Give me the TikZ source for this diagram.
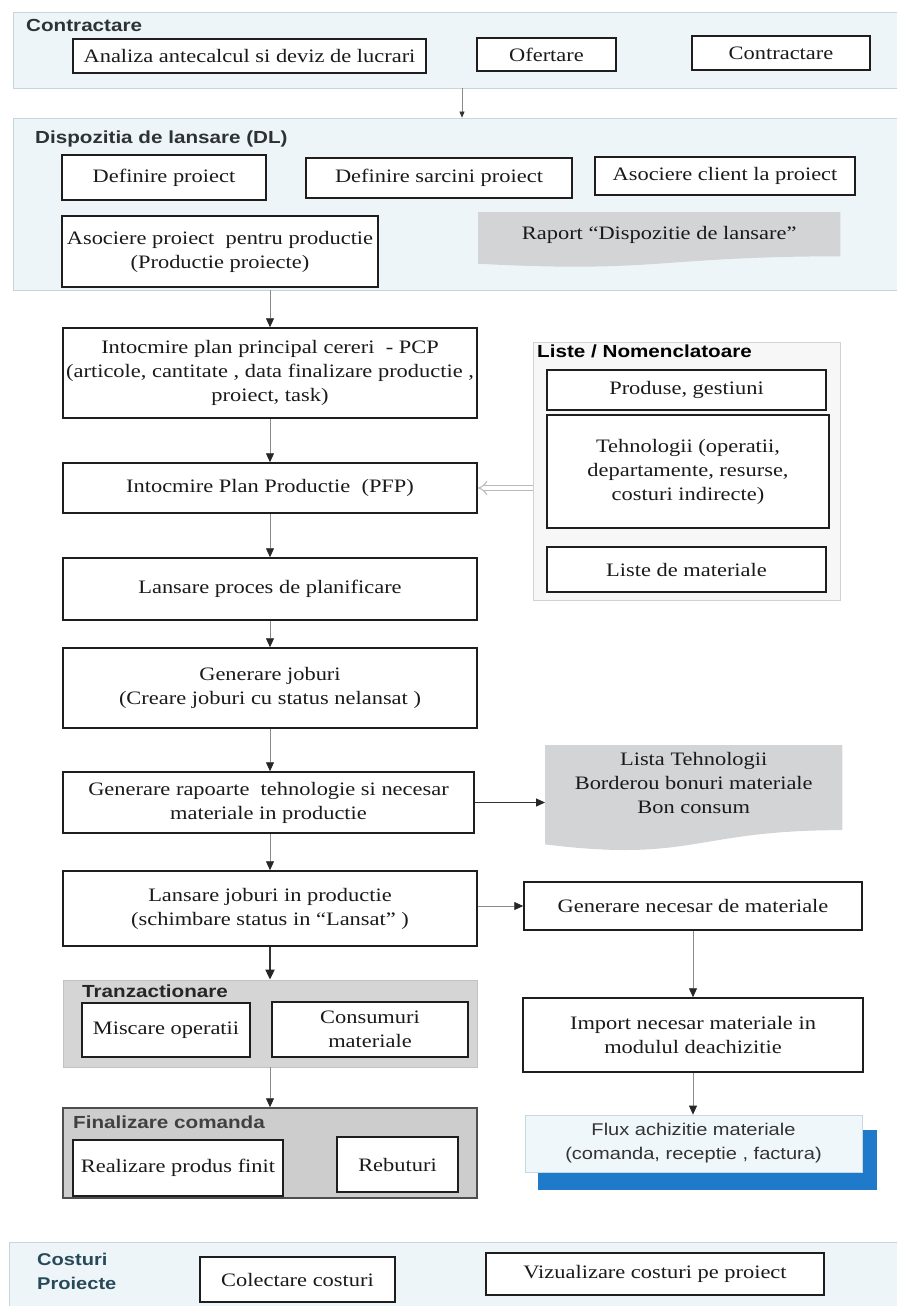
\documentclass[tikz,border=0pt]{standalone}
\usepackage{fontspec}
\setmainfont{Liberation Serif}[FakeStretch=1.18]
\setsansfont{Liberation Sans}[FakeStretch=1.18]
\usetikzlibrary{arrows.meta,calc}

\definecolor{panelblue}{HTML}{EEF5F9}
\definecolor{panelline}{HTML}{C9D5DD}
\definecolor{tgray}{HTML}{D5D5D5}
\definecolor{tline}{HTML}{C2C2C2}
\definecolor{fgray}{HTML}{CDCDCD}
\definecolor{fline}{HTML}{4E4E4E}
\definecolor{repgray}{HTML}{D3D4D6}
\definecolor{boxline}{HTML}{1E1E1E}
\definecolor{txt}{HTML}{1A1A1A}
\definecolor{titlegray}{HTML}{2E3236}
\definecolor{titleteal}{HTML}{274A5A}
\definecolor{fluxblue}{HTML}{1F7BC9}
\definecolor{fluxfill}{HTML}{F0F7FB}
\definecolor{fluxline}{HTML}{C8D8E2}
\definecolor{linegray}{HTML}{8A8A8A}
\definecolor{listfill}{HTML}{F7F7F7}
\definecolor{listline}{HTML}{D2D2D2}

\newcommand\txtsize{\fontsize{19}{24}\selectfont}

% document symbol with a wavy lower edge, drawn over the frame of a node
\newcommand\docshape[2]{%
  \fill[#2] let \p1=(#1.north west), \p2=(#1.south east),
    \n1={\x2-\x1}, \n2={\y1-\y2} in
    (\x1,\y1) -- (\x2,\y1) -- (\x2,{\y1-0.80*\n2})
    .. controls ({\x1+0.5*\n1},{\y1-0.80*\n2}) and ({\x1+0.5*\n1},{\y1-1.107*\n2})
    .. (\x1,{\y1-0.934*\n2}) -- cycle;}

\begin{document}
\begin{tikzpicture}[x=1pt,y=-1pt,
  box/.style={draw=boxline, line width=1.5pt, fill=white, align=center,
    inner sep=0pt, font=\txtsize, text=txt},
  panel/.style={draw=panelline, line width=0.8pt, fill=panelblue, inner sep=0pt},
  trpanel/.style={draw=tline, line width=0.8pt, fill=tgray, inner sep=0pt},
  finpanel/.style={draw=fline, line width=1.5pt, fill=fgray, inner sep=0pt},
  listpanel/.style={draw=listline, line width=0.8pt, fill=listfill, inner sep=0pt},
  ptitle/.style={font=\sffamily\bfseries\fontsize{17.5}{22}\selectfont,
    text=titlegray, anchor=west, inner sep=0pt, align=left},
  frame/.style={inner sep=0pt, anchor=north west},
  rtext/.style={align=center, inner sep=0pt, font=\txtsize, text=txt},
  flow/.style={draw=linegray, line width=0.8pt,
    -{Triangle[length=9pt,width=8pt,color=black!85]}},
  flowdark/.style={draw=black!80, line width=1.2pt,
    -{Triangle[length=9pt,width=8pt,color=black!85]}},
  flowthick/.style={draw=black!80, line width=1.8pt,
    -{Triangle[length=10pt,width=9pt,color=black!85]}},
  flowsmall/.style={draw=linegray, line width=0.6pt,
    -{Triangle[length=6pt,width=5pt,color=black!80]}},
  dblarrow/.style={draw=gray!55, line width=1pt, double=white,
    double distance=4pt, -{Implies}},
]
\useasboundingbox (0,0) rectangle (897,1306);
\clip (0,0) rectangle (897,1306);

% ---------- Contractare ----------
\node[panel, minimum width=888pt, minimum height=76pt] (pcontr) at (457,50) {};
\node[ptitle] (tcontr) at (26,25) {Contractare};
\node[box, minimum width=353pt, minimum height=34pt] (ana) at (249.5,56) {Analiza antecalcul si deviz de lucrari};
\node[box, minimum width=139pt, minimum height=33pt] (ofe) at (546.5,54.5) {Ofertare};
\node[box, minimum width=178pt, minimum height=34pt] (con) at (781,53) {Contractare};

% ---------- Dispozitia de lansare ----------
\node[panel, minimum width=888pt, minimum height=172pt] (pdl) at (457,204) {};
\node[ptitle] (tdl) at (35,139) {Dispozitia de lansare (DL)};
\node[box, minimum width=204pt, minimum height=45pt] (dp) at (164,177.5) {Definire proiect};
\node[box, minimum width=266pt, minimum height=40pt] (ds) at (439,178) {Definire sarcini proiect};
\node[box, minimum width=260pt, minimum height=38pt] (ac) at (725,176) {Asociere client la proiect};
\node[box, minimum width=316pt, minimum height=71pt] (ap) at (220,251.5)
  {Asociere proiect \ pentru productie\\(Productie proiecte)};
\node[frame, minimum width=362pt, minimum height=55pt] (rep1) at (478,212) {};
\docshape{rep1}{repgray}
\node[rtext] (rep1t) at ($(rep1.north)+(0,23)$) {Raport “Dispozitie de lansare”};

\coordinate (cx) at (462,0);
\draw[flowsmall] (pcontr.south -| cx) -- (pdl.north -| cx);

% ---------- main column ----------
\node[box, minimum width=414pt, minimum height=90pt] (pcp) at (270,373)
  {Intocmire plan principal cereri \ - PCP\\(articole, cantitate , data finalizare productie ,\\proiect, task)};
\node[box, minimum width=414pt, minimum height=50pt] (pfp) at (270,488)
  {Intocmire Plan Productie \ (PFP)};
\node[box, minimum width=414pt, minimum height=62pt] (lpp) at (270,589)
  {Lansare proces de planificare};
\node[box, minimum width=414pt, minimum height=80pt] (gj) at (270,688)
  {Generare joburi\\(Creare joburi cu status nelansat )};
\node[box, minimum width=411pt, minimum height=61pt] (gr) at (268.5,802.5)
  {Generare rapoarte \ tehnologie si necesar\\materiale in productie};
\node[box, minimum width=414pt, minimum height=75pt] (lj) at (270,908.5)
  {Lansare joburi in productie\\(schimbare status in “Lansat” )};

% ---------- Tranzactionare ----------
\node[trpanel, minimum width=414pt, minimum height=87pt] (ptr) at (270,1023.5) {};
\node[ptitle, text=black!85] (ttr) at (82,991) {Tranzactionare};
\node[box, minimum width=168pt, minimum height=54pt] (mis) at (166,1030) {Miscare operatii};
\node[box, minimum width=196pt, minimum height=55pt] (cons) at (370,1029.5) {Consumuri\\materiale};

% ---------- Finalizare comanda ----------
\node[finpanel, minimum width=414pt, minimum height=90pt] (pfin) at (270,1153) {};
\node[ptitle, text=black!75] (tfin) at (73,1122) {Finalizare comanda};
\node[box, minimum width=210pt, minimum height=56pt] (real) at (178,1168) {Realizare produs finit};
\node[box, minimum width=121pt, minimum height=55pt] (reb) at (397.5,1164.5) {Rebuturi};

% ---------- Liste / Nomenclatoare ----------
\node[listpanel, minimum width=307pt, minimum height=258pt] (liste) at (686.5,471) {};
\node[ptitle, text=black] (tlis) at (537,351) {Liste / Nomenclatoare};
\node[box, minimum width=279pt, minimum height=40pt] (prod) at (686.5,390) {Produse, gestiuni};
\node[box, minimum width=282pt, minimum height=113pt] (teh) at (688,471.5)
  {Tehnologii (operatii,\\departamente, resurse,\\costuri indirecte)};
\node[box, minimum width=279pt, minimum height=45pt] (lm) at (686.5,569.5) {Liste de materiale};

% ---------- rapoarte productie ----------
\node[frame, minimum width=297pt, minimum height=106pt] (rep2) at (545,745) {};
\docshape{rep2}{repgray}
\node[rtext] (rep2t) at ($(rep2.north)+(0,38)$)
  {Lista Tehnologii\\Borderou bonuri materiale\\Bon consum};

% ---------- necesar / achizitie ----------
\node[box, minimum width=338pt, minimum height=48pt] (gn) at (693,906) {Generare necesar de materiale};
\node[box, minimum width=340pt, minimum height=74pt] (imp) at (693,1035)
  {Import necesar materiale in\\modulul deachizitie};
\node[draw=fluxline, line width=0.8pt, fill=fluxfill, inner sep=0pt,
  minimum width=337pt, minimum height=57pt] (flux) at (693.5,1143.5) {};
\fill[fluxblue] ($(flux.north west)+(13,15)$) rectangle ($(flux.south east)+(15,18)$);
\node[draw=fluxline, line width=0.8pt, fill=fluxfill, inner sep=0pt,
  minimum width=337pt, minimum height=57pt, align=center, text=black!80,
  font=\sffamily\fontsize{17}{24}\selectfont] (fluxt) at (flux.center)
  {Flux achizitie materiale\\(comanda, receptie , factura)};

% ---------- Costuri Proiecte ----------
\node[panel, minimum width=892pt, minimum height=70pt] (pcost) at (455,1277) {};
\node[ptitle, text=titleteal, font=\sffamily\bfseries\fontsize{17}{24}\selectfont] (tcost) at (37,1271) {Costuri\\Proiecte};
\node[box, minimum width=195pt, minimum height=45pt] (col) at (297.5,1279.5) {Colectare costuri};
\node[box, minimum width=338pt, minimum height=42pt] (viz) at (655,1274) {Vizualizare costuri pe proiect};

% ---------- connectors ----------
\draw[flow] (pdl.south -| pcp.north) -- (pcp.north);
\draw[flow] (pcp.south) -- (pfp.north);
\draw[flow] (pfp.south) -- (lpp.north);
\draw[flow] (lpp.south) -- (gj.north);
\draw[flow] (gj.south) -- (gj.south |- gr.north);
\draw[flow] (lj.north |- gr.south) -- (lj.north);
\draw[flowthick] (lj.south) -- (ptr.north);
\draw[flow] (ptr.south) -- (pfin.north);
\draw[dblarrow] (liste.west |- pfp.east) -- (pfp.east);
\draw[flowdark] (gr.east) -- (gr.east -| rep2.west);
\draw[flow] (lj.east |- gn.west) -- (gn.west);
\draw[flow] (gn.south) -- (gn.south |- imp.north);
\draw[flow] (imp.south) -- (imp.south |- flux.north);
\end{tikzpicture}
\end{document}
